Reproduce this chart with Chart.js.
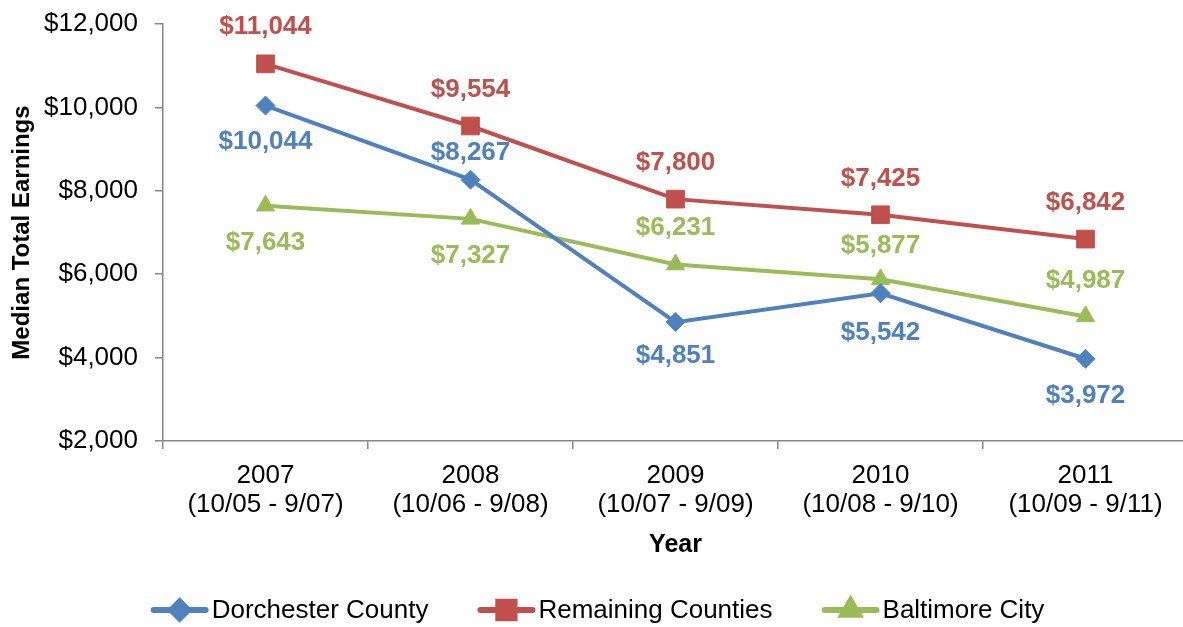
<!DOCTYPE html>
<html>
<head>
<meta charset="utf-8">
<script src="https://cdn.jsdelivr.net/npm/chart.js@4.4.1/dist/chart.umd.min.js"></script>
<style>
  html, body { margin: 0; padding: 0; background: #fff; overflow: hidden; }
  canvas { display: block; }
</style>
</head>
<body>
<canvas id="myChart" width="1188" height="627"></canvas>
<script>
// chart data
const years = [
  ['2007', '(10/05 - 9/07)'],
  ['2008', '(10/06 - 9/08)'],
  ['2009', '(10/07 - 9/09)'],
  ['2010', '(10/08 - 9/10)'],
  ['2011', '(10/09 - 9/11)']
];
const dorchester = [10044, 8267, 4851, 5542, 3972];
const remaining = [11044, 9554, 7800, 7425, 6842];
const baltimore = [7643, 7327, 6231, 5877, 4987];
const yMin = 2000, yMax = 12000, yStep = 2000;

// label offsets (px, negative = above the point)
const dorchesterLabelDy = [36, -27, 34, 40, 37];
const remainingLabelDy = [-37, -36, -36, -36, -36];
const baltimoreLabelDy = [37, 37, -37, -34, -36];

const FONT = "'Liberation Sans', Arial, sans-serif";
const AXIS_GRAY = '#868686';
Chart.defaults.font.family = FONT;
Chart.defaults.color = '#000';

function money(v) {
  return '$' + v.toLocaleString('en-US');
}

// value labels next to each point
const valueLabels = {
  id: 'valueLabels',
  afterDatasetsDraw(chart) {
    const ctx = chart.ctx;
    ctx.save();
    ctx.font = 'bold 26px ' + FONT;
    ctx.textAlign = 'center';
    ctx.textBaseline = 'middle';
    chart.data.datasets.forEach(function(ds, i) {
      const meta = chart.getDatasetMeta(i);
      meta.data.forEach(function(pt, j) {
        ctx.fillStyle = ds.borderColor;
        ctx.fillText(money(ds.data[j]), pt.x, pt.y + ds.labelDy[j]);
      });
    });
    ctx.restore();
  }
};

// legend with line + marker, like the original
const lineLegend = {
  id: 'lineLegend',
  afterDraw(chart) {
    const ctx = chart.ctx;
    const y = 610;
    const iconW = 58, gapText = 3, gapItem = 49;
    ctx.save();
    ctx.font = '26px ' + FONT;
    ctx.textBaseline = 'middle';
    const items = chart.data.datasets.map(function(ds) {
      return { ds: ds, w: iconW + gapText + ctx.measureText(ds.label).width };
    });
    let total = items.reduce(function(s, it) { return s + it.w; }, 0) + gapItem * (items.length - 1);
    let x = 1183 / 2 + 6 - total / 2;
    items.forEach(function(it) {
      const ds = it.ds;
      ctx.strokeStyle = ds.borderColor;
      ctx.fillStyle = ds.borderColor;
      ctx.lineWidth = 6;
      ctx.lineCap = 'round';
      ctx.beginPath();
      ctx.moveTo(x + 3, y);
      ctx.lineTo(x + iconW - 3, y);
      ctx.stroke();
      Chart.helpers.drawPoint(ctx, {
        pointStyle: ds.pointStyle,
        radius: ds.pointRadius - 1,
        borderWidth: 1,
        rotation: 0
      }, x + iconW / 2, y);
      ctx.fillStyle = '#000';
      ctx.fillText(ds.label, x + iconW + gapText, y + 1);
      x += it.w + gapItem;
    });
    ctx.restore();
  }
};

const ctx = document.getElementById('myChart').getContext('2d');
const myChart = new Chart(ctx, {
  type: 'line',
  data: {
    labels: years,
    datasets: [
      {
        label: 'Dorchester County',
        data: dorchester,
        labelDy: dorchesterLabelDy,
        borderColor: '#4F81BD',
        backgroundColor: '#4F81BD',
        pointBackgroundColor: '#4F81BD',
        pointBorderColor: '#4F81BD',
        borderWidth: 4,
        pointStyle: 'rectRot',
        pointRadius: 9.5,
        pointBorderWidth: 1
      },
      {
        label: 'Remaining Counties',
        data: remaining,
        labelDy: remainingLabelDy,
        borderColor: '#C0504D',
        backgroundColor: '#C0504D',
        pointBackgroundColor: '#C0504D',
        pointBorderColor: '#C0504D',
        borderWidth: 4,
        pointStyle: 'rect',
        pointRadius: 12.5,
        pointBorderWidth: 1
      },
      {
        label: 'Baltimore City',
        data: baltimore,
        labelDy: baltimoreLabelDy,
        borderColor: '#9BBB59',
        backgroundColor: '#9BBB59',
        pointBackgroundColor: '#9BBB59',
        pointBorderColor: '#9BBB59',
        borderWidth: 4,
        pointStyle: 'triangle',
        pointRadius: 10.5,
        pointBorderWidth: 1
      }
    ]
  },
  options: {
    responsive: false,
    devicePixelRatio: 1,
    animation: false,
    events: [],
    layout: {
      autoPadding: false,
      padding: { top: 24, right: 0, bottom: 66, left: 0 }
    },
    plugins: {
      legend: { display: false },
      tooltip: { enabled: false }
    },
    scales: {
      x: {
        offset: true,
        afterFit: function(scale) {
          scale.height = 120;
          scale.paddingLeft = 0;
          scale.paddingRight = 0;
        },
        grid: {
          offset: true,
          drawOnChartArea: false,
          drawTicks: true,
          tickLength: 8,
          color: AXIS_GRAY,
          lineWidth: 1.5
        },
        border: { display: true, color: AXIS_GRAY, width: 1.5 },
        ticks: {
          color: '#000',
          font: { size: 26, lineHeight: 1.12 },
          maxRotation: 0,
          autoSkip: false,
          padding: 12
        },
        title: {
          display: true,
          text: 'Year',
          color: '#000',
          font: { size: 25, weight: 'bold', lineHeight: 1.2 },
          padding: { top: 0, bottom: 1 }
        }
      },
      y: {
        min: yMin,
        max: yMax,
        afterFit: function(scale) {
          scale.width = 163;
          scale.paddingTop = 0;
          scale.paddingBottom = 0;
        },
        grid: {
          drawOnChartArea: false,
          drawTicks: true,
          tickLength: 8,
          color: AXIS_GRAY,
          lineWidth: 1.5
        },
        border: { display: true, color: AXIS_GRAY, width: 1.5 },
        ticks: {
          stepSize: yStep,
          color: '#000',
          font: { size: 26 },
          padding: 17,
          callback: function(v) { return money(v); }
        },
        title: {
          display: true,
          text: 'Median Total Earnings',
          color: '#000',
          font: { size: 24, weight: 'bold', lineHeight: 1.2 },
          padding: { top: 8, bottom: 0 }
        }
      }
    }
  },
  plugins: [valueLabels, lineLegend]
});
</script>
</body>
</html>
